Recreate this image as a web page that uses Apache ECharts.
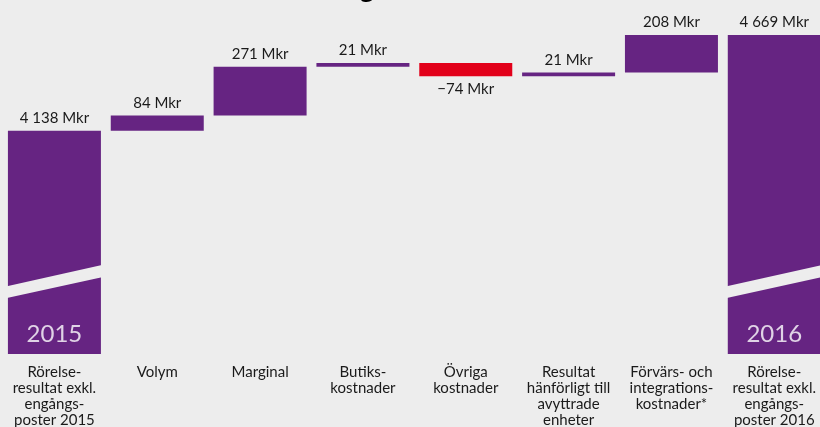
<!DOCTYPE html>
<html><head><meta charset="utf-8">
<script src="https://cdn.jsdelivr.net/npm/echarts@6/dist/echarts.min.js"></script>
<style>html,body{margin:0;padding:0;background:#ededed;overflow:hidden}#c{width:820px;height:427px}</style>
</head><body><div id="c"></div>
<script>
const categories = ['Rörelse-\nresultat exkl.\nengångs-\nposter 2015','Volym','Marginal','Butiks-\nkostnader','Övriga\nkostnader','Resultat\nhänförligt till\navyttrade\nenheter','Förvärs- och\nintegrations-\nkostnader*','Rörelse-\nresultat exkl.\nengångs-\nposter 2016'];
const changes = [4138, 84, 271, 21, -74, 21, 208, 4669];
const isTotal = [true, false, false, false, false, false, false, true];
const valueLabels = ['4 138 Mkr','84 Mkr','271 Mkr','21 Mkr','\u221274 Mkr','21 Mkr','208 Mkr','4 669 Mkr'];
const yearLabels = ['2015','','','','','','','2016'];

const PURPLE = '#662482', RED = '#e2001a', BG = '#ededed', TXT = '#1a1a1a';
const FONT = 'Lato';

const base = [], vis = [];
let running = 0;
changes.forEach((c, i) => {
  if (isTotal[i]) { base.push(0); vis.push(c); running = c; }
  else if (c >= 0) { base.push(running); vis.push(c); running += c; }
  else { running += c; base.push(running); vis.push(-c); }
});

const chart = echarts.init(document.getElementById('c'));
const option = {
  backgroundColor: BG,
  animation: false,
  grid: { left: 3, width: 822.7, top: 35, bottom: 73, containLabel: false, outerBoundsMode: 'none' },
  xAxis: {
    type: 'category', data: categories,
    axisLine: { show: false }, axisTick: { show: false }, splitLine: { show: false },
    axisLabel: { interval: 0, margin: 10, fontFamily: FONT, fontSize: 15, lineHeight: 16, color: TXT, align: 'center', verticalAlign: 'top' }
  },
  yAxis: { type: 'value', min: 2900, max: 4669, show: false, splitLine: { show: false } },
  series: [
    { type: 'bar', stack: 'w', barWidth: 93, data: base, itemStyle: { color: 'transparent' }, silent: true },
    { type: 'bar', stack: 'w', barWidth: 93,
      data: vis.map((v, i) => ({
        value: v,
        itemStyle: { color: changes[i] < 0 ? RED : PURPLE },
        label: { show: true, position: changes[i] < 0 ? 'bottom' : 'top', distance: 5, formatter: valueLabels[i] }
      })),
      label: { fontFamily: FONT, fontSize: 15, color: TXT }
    },
    { type: 'scatter', symbolSize: 0, z: 5,
      data: yearLabels.map((t, i) => t ? { value: [i, 3012], label: { formatter: t } } : null).filter(Boolean),
      label: { show: true, position: 'inside', color: '#ffffff', fontFamily: FONT, fontSize: 24 }
    }
  ],
  graphic: [{
    type: 'text', style: { text: 'Rörelseresultatets förändring', x: 374, y: 3, align: 'right', verticalAlign: 'bottom', font: 'bold 27px ' + FONT, fill: '#000' }
  }]
};
chart.setOption(option);

// broken-axis bands on the total bars
const bands = [];
isTotal.forEach((t, i) => {
  if (!t) return;
  const c = chart.convertToPixel({ gridIndex: 0 }, [i, 0])[0];
  const xl = c - 47.5, xr = c + 47.5;
  const y = v => chart.convertToPixel({ gridIndex: 0 }, [i, v])[1];
  bands.push({
    type: 'polygon', z: 10,
    shape: { points: [[xl, y(3276)], [xr, y(3393)], [xr, y(3326)], [xl, y(3210)]] },
    style: { fill: BG }
  });
});
chart.setOption({ graphic: option.graphic.concat(bands) });
</script></body></html>
